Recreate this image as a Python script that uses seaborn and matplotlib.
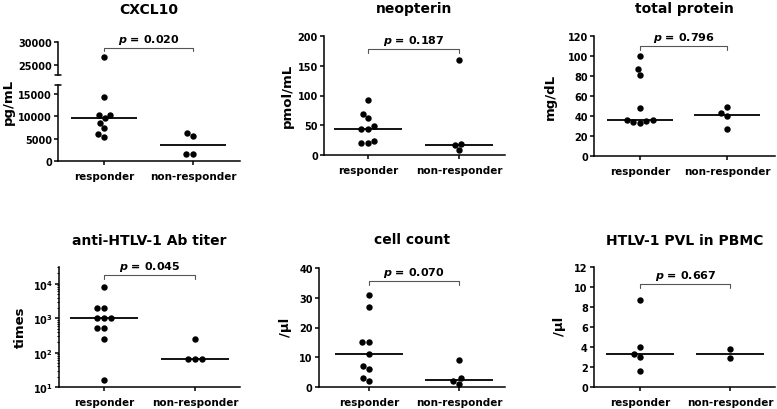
import numpy as np
import pandas as pd
import matplotlib
matplotlib.use("Agg")
import matplotlib.pyplot as plt
from matplotlib.ticker import LogLocator, NullFormatter
import seaborn as sns

groups = ["responder", "non-responder"]

# values
cxcl10_resp = [26700, 14400, 10300, 9600, 10300, 8500, 7300, 6100, 5300]
cxcl10_non = [6250, 5650, 1500, 1600]
neopterin_resp = [93, 69, 62, 49, 43, 43, 24, 21, 21]
neopterin_non = [160, 18, 16, 8]
protein_resp = [100, 87, 81, 48, 36, 35, 33, 34, 36]
protein_non = [49, 43, 40, 27]
titer_resp = [8192, 2048, 2048, 1024, 1024, 1024, 512, 512, 256, 16]
titer_non = [256, 64, 64, 64]
cells_resp = [31, 27, 15, 15, 11, 7, 6, 3, 2]
cells_non = [9, 3, 2, 1]
pvl_resp = [8.7, 4.0, 3.3, 3.0, 1.6]
pvl_non = [3.8, 2.9]

titles = ["CXCL10", "neopterin", "total protein",
          "anti-HTLV-1 Ab titer", "cell count", "HTLV-1 PVL in PBMC"]
ylabels = ["pg/mL", "pmol/mL", "mg/dL", "times", "/μl", "/μl"]
p_values = ["0.020", "0.187", "0.796", "0.045", "0.070", "0.667"]

sns.set_style("ticks")
plt.rcParams["font.family"] = ["DejaVu Sans"]
plt.rcParams["font.weight"] = "bold"
plt.rcParams["mathtext.fontset"] = "custom"
plt.rcParams["mathtext.it"] = "DejaVu Sans:italic:bold"
plt.rcParams["mathtext.rm"] = "DejaVu Sans:bold"
plt.rcParams["mathtext.bf"] = "DejaVu Sans:bold"
plt.rcParams["axes.linewidth"] = 1.1
plt.rcParams["axes.edgecolor"] = "black"
plt.rcParams["text.color"] = "black"
plt.rcParams["xtick.color"] = "black"
plt.rcParams["ytick.color"] = "black"
plt.rcParams["axes.labelcolor"] = "black"

W, H = 777, 410
fig = plt.figure(figsize=(W / 100, H / 100), dpi=100)


def px_axes(left, right, top, bottom):
    return fig.add_axes([left / W, 1 - bottom / H, (right - left) / W, (bottom - top) / H])


def make_df(resp, non):
    return pd.DataFrame({
        "group": ["responder"] * len(resp) + ["non-responder"] * len(non),
        "value": resp + non,
    })


def draw(ax, df, box, centers, ylim, log=False):
    left, right, top, bottom = box
    r, n = centers
    sp = n - r
    if log:
        ax.set_yscale("log")
    ax.set_ylim(*ylim)
    sns.boxplot(data=df, x="group", y="value", order=groups, ax=ax, width=0.75,
                showbox=False, showcaps=False, showfliers=False,
                whiskerprops={"visible": False},
                medianprops={"color": "black", "linewidth": 1.3})
    sns.swarmplot(data=df, x="group", y="value", order=groups, ax=ax,
                  color="black", size=4.6, linewidth=0)
    ax.set_xlim((left - r) / sp, 1 + (right - n) / sp)
    ax.set_ylim(*ylim)
    ax.set_xlabel("")
    ax.set_ylabel("")
    sns.despine(ax=ax)
    ax.tick_params(axis="y", length=3, width=1.1, labelsize=7, pad=1.5, colors="black")
    ax.tick_params(axis="x", length=3, width=1.1, labelsize=7.5, pad=4, colors="black")


def bracket(ax, y, p):
    y_px = ax.transData.transform((0, y))[1]
    y2 = ax.transData.inverted().transform((0, y_px - 3.5))[1]
    ax.plot([0, 0, 1, 1], [y2, y, y, y2], color="#555555", lw=0.8, clip_on=False)
    ax.annotate(f"$p$ = {p}", xy=(0.5, y), xytext=(0, 4.5), textcoords="offset points",
                ha="center", va="baseline", fontsize=8, fontweight="bold", color="black")


def title_and_label(box, title, title_y, label, label_xy):
    left, right, top, bottom = box
    fig.text((left + right) / 2 / W, 1 - title_y / H, title, ha="center",
             va="baseline", fontsize=10, fontweight="bold", color="black")
    fig.text(label_xy[0] / W, 1 - label_xy[1] / H, label, rotation=90, ha="center",
             va="center", fontsize=9.5, fontweight="bold", color="black")


# CXCL10 - broken axis
box_up = (58, 240, 43, 76)
box_lo = (58, 240, 86, 162)
ax_up = px_axes(*box_up)
ax_lo = px_axes(*box_lo)
df1 = make_df(cxcl10_resp, cxcl10_non)
draw(ax_up, df1, box_up, (104, 193), (22800, 30000))
draw(ax_lo, df1, box_lo, (104, 193), (0, 17000))
ax_up.spines["bottom"].set_visible(False)
ax_up.set_xticks([])
ax_up.set_yticks([25000, 30000])
ax_lo.set_yticks([0, 5000, 10000, 15000])
for a, yy in [(ax_up, 0), (ax_lo, 1)]:
    a.plot([-0.018, 0.018], [yy, yy], transform=a.transAxes, color="black",
           lw=1.1, clip_on=False)
bracket(ax_up, 28700, p_values[0])
title_and_label((58, 240, 43, 162), titles[0], 14, ylabels[0], (8, 102))

# neopterin
box = (324, 505, 37, 156)
ax = px_axes(*box)
draw(ax, make_df(neopterin_resp, neopterin_non), box, (368, 459), (0, 200))
ax.set_yticks([0, 50, 100, 150, 200])
bracket(ax, 178, p_values[1])
title_and_label(box, titles[1], 13, ylabels[1], (287, 96))

# total protein
box = (594, 775, 37, 157)
ax = px_axes(*box)
draw(ax, make_df(protein_resp, protein_non), box, (640, 727), (0, 120))
ax.set_yticks([0, 20, 40, 60, 80, 100, 120])
bracket(ax, 110, p_values[2])
title_and_label(box, titles[2], 13, ylabels[2], (550, 97))

# anti-HTLV-1 Ab titer (log)
box = (59, 240, 268, 388)
ax = px_axes(*box)
draw(ax, make_df(titer_resp, titer_non), box, (104, 195), (10, 10 ** 4.49), log=True)
ax.yaxis.set_major_locator(LogLocator(base=10, numticks=10))
ax.yaxis.set_minor_locator(LogLocator(base=10, subs=np.arange(2, 10), numticks=10))
ax.yaxis.set_minor_formatter(NullFormatter())
ax.tick_params(axis="y", which="minor", length=1.8, width=0.8)
ax.set_ylim(10, 10 ** 4.49)
bracket(ax, 17500, p_values[3])
title_and_label(box, titles[3], 245, ylabels[3], (20, 327))

# cell count
box = (319, 505, 269, 388)
ax = px_axes(*box)
draw(ax, make_df(cells_resp, cells_non), box, (369, 459), (0, 40))
ax.set_yticks([0, 10, 20, 30, 40])
bracket(ax, 35.5, p_values[4])
title_and_label(box, titles[4], 244, ylabels[4], (285, 327))

# HTLV-1 PVL
box = (594, 775, 268, 388)
ax = px_axes(*box)
draw(ax, make_df(pvl_resp, pvl_non), box, (640, 730), (0, 12))
ax.set_yticks([0, 2, 4, 6, 8, 10, 12])
bracket(ax, 10.3, p_values[5])
title_and_label(box, titles[5], 245, ylabels[5], (559, 326))

fig.savefig("out.png", dpi=100)
